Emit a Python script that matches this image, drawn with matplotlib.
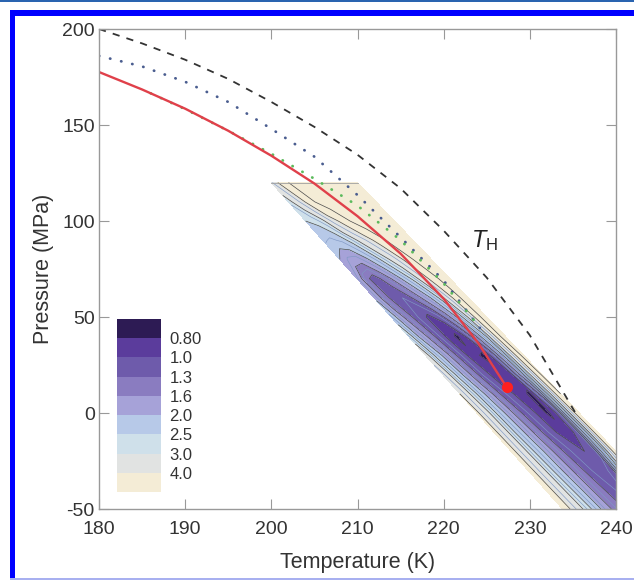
import numpy as np
import matplotlib
matplotlib.use("Agg")
import matplotlib.pyplot as plt
from matplotlib.colors import ListedColormap, BoundaryNorm
from matplotlib.patches import Rectangle

plt.rcParams['font.family'] = ['Liberation Sans', 'DejaVu Sans']
plt.rcParams['mathtext.fontset'] = 'custom'
plt.rcParams['mathtext.rm'] = 'Liberation Sans'
plt.rcParams['mathtext.it'] = 'Liberation Sans:italic'
plt.rcParams['axes.unicode_minus'] = False

# --- lines ---
th_T = [180, 185, 190, 195, 200, 205, 210, 215, 220, 225, 230, 235.3]
th_P = [200, 192.5, 184, 174, 162, 149, 134.5, 117, 95, 70.5, 40.5, 0]

blue_T = [180, 185, 190, 195, 200, 205, 210, 215, 220, 224.2]
blue_P = [186, 180.5, 172.5, 162, 148, 133.5, 113.5, 91.5, 69, 44.3]

green_T = [186, 190, 195, 200, 205, 210, 215, 220, 224.2]
green_P = [166.5, 158.2, 147, 135, 122, 108, 90, 67.5, 44.5]

red_T = [180, 185, 190, 195, 200, 205, 210, 215, 220, 224, 227.3]
red_P = [177.6, 168.5, 158.5, 147, 134, 119.5, 102.5, 83, 59.5, 36.5, 13.5]

cp_T, cp_P = 227.3, 13.5

# --- contour data: rows are pressures, columns run across the sampled band ---
band_P = [120, 110, 100, 90, 80, 70, 60, 50, 40, 30, 20, 10, 0, -10, -20, -30, -40, -50]
band_u = [0, .1, .2, .3, .4, .5, .6, .7, .8, .9, 1.0]
band_vals = [
    [3.4, 4.2, 5.0, 5.5, 6.0, 6.0, 6.0, 6.0, 6.0, 6.0, 6.0],
    [2.8, 3.3, 4.1, 5.0, 5.5, 6.0, 6.0, 6.0, 6.0, 6.0, 6.0],
    [2.5, 2.6, 2.9, 3.6, 4.2, 5.0, 5.5, 6.0, 6.0, 6.0, 6.0],
    [2.3, 2.2, 2.3, 2.6, 3.1, 3.6, 4.3, 5.0, 5.5, 6.0, 6.0],
    [2.0, 1.75, 1.7, 1.95, 2.3, 2.8, 3.3, 4.1, 5.0, 5.5, 6.0],
    [1.85, 1.35, 1.2, 1.4, 1.7, 2.1, 2.6, 3.3, 4.3, 5.2, 6.0],
    [1.95, 1.45, 1.2, 1.15, 1.3, 1.6, 2.0, 2.6, 3.6, 4.8, 6.0],
    [2.3, 1.7, 1.35, 1.1, 0.95, 1.1, 1.5, 2.1, 3.0, 4.4, 6.0],
    [2.8, 2.0, 1.55, 1.2, 0.95, 0.75, 1.05, 1.6, 2.5, 4.0, 6.0],
    [3.3, 2.4, 1.8, 1.35, 1.05, 0.85, 0.75, 1.2, 2.1, 3.6, 5.5],
    [3.7, 2.7, 2.0, 1.5, 1.15, 0.95, 0.85, 1.0, 1.8, 3.3, 5.2],
    [4.0, 3.0, 2.25, 1.7, 1.3, 1.05, 0.9, 0.75, 1.4, 3.0, 5.0],
    [4.2, 3.2, 2.4, 1.85, 1.4, 1.15, 0.95, 0.75, 1.1, 2.8, 4.8],
    [4.3, 3.3, 2.5, 1.95, 1.5, 1.2, 1.0, 0.9, 1.05, 2.6, 4.7],
    [4.4, 3.4, 2.6, 2.05, 1.6, 1.3, 1.1, 1.0, 1.1, 2.6, 4.6],
    [4.5, 3.5, 2.7, 2.1, 1.65, 1.35, 1.15, 1.05, 1.25, 3.0, 4.6],
    [4.6, 3.6, 2.8, 2.2, 1.7, 1.4, 1.2, 1.1, 1.35, 3.2, 4.6],
    [4.7, 3.7, 2.9, 2.3, 1.75, 1.45, 1.25, 1.15, 1.45, 3.4, 4.6],
]
# band edges: lower-left edge (200 K,120 MPa)->(233.8 K,-50 MPa), upper-right edge (210 K,120 MPa)->(240 K,-20 MPa)
edge_lo = (200.0, 33.8 / 170)
edge_hi = (210.0, 30.0 / 140)

levels = [0.0, 0.80, 1.0, 1.3, 1.6, 2.0, 2.5, 3.0, 4.0, 10.0]
level_labels = ['0.80', '1.0', '1.3', '1.6', '2.0', '2.5', '3.0', '4.0']
colors = ['#2d1b54', '#5b3c9c', '#6e5bab', '#8a7cc0', '#a6a2d8',
          '#b7c9e8', '#cfe0ea', '#e1e3e2', '#f4ecd6']
minor_levels = [1.15, 1.45, 1.8, 2.25, 2.75, 3.5]

P = np.array(band_P, dtype=float)
u = np.array(band_u)
t_lo = edge_lo[0] + (120 - P) * edge_lo[1]
t_hi = edge_hi[0] + (120 - P) * edge_hi[1]
TT = t_lo[:, None] + u[None, :] * (t_hi - t_lo)[:, None]
PP = np.repeat(P[:, None], len(u), axis=1)
ZZ = np.array(band_vals)

cmap = ListedColormap(colors)
norm = BoundaryNorm(levels, cmap.N)

fig = plt.figure(figsize=(6.34, 5.82), dpi=100)
ax = fig.add_axes([99 / 634, 1 - 509 / 582, 517 / 634, 480 / 582])

cf = ax.contourf(TT, PP, ZZ, levels=levels, cmap=cmap, norm=norm)
ax.contour(TT, PP, ZZ, levels=minor_levels, colors='#8098c4', linewidths=0.45)
ax.contour(TT, PP, ZZ, levels=levels[1:-1] + [5.0], colors='#4a4a4a', linewidths=0.5)
ax.plot([t_lo[0], t_hi[0]], [120, 120], color='#a0a0a0', lw=0.6)

ax.plot(th_T, th_P, color='#333333', lw=1.3, ls=(0, (4, 4)))
ax.plot(blue_T, blue_P, color='#4a5d8f', lw=2.0, ls=(0, (0.1, 4)), dash_capstyle='round')
ax.plot(green_T, green_P, color='#5cba5c', lw=2.0, ls=(0, (0.1, 4)), dash_capstyle='round')
ax.plot(red_T, red_P, color='#e0404a', lw=1.7)
ax.plot(cp_T, cp_P, 'o', color='#ff2020', ms=8, mec='none')

ax.text(223.2, 90, r'$T_{\rm H}$', fontsize=17, color='#222222', ha='left', va='center')

ax.set_xlim(180, 240)
ax.set_ylim(-50, 200)
ax.set_xticks([180, 190, 200, 210, 220, 230, 240])
ax.set_yticks([-50, 0, 50, 100, 150, 200])
ax.tick_params(direction='in', length=7, width=0.8, color='#999999', labelsize=14,
               labelcolor='#333333', top=True, right=True)
ax.tick_params(axis='x', pad=9)
ax.tick_params(axis='y', pad=3)
for s in ax.spines.values():
    s.set_color('#999999')
    s.set_linewidth(1.0)
ax.set_xlabel('Temperature (K)', fontsize=15.5, color='#333333', labelpad=10)
ax.set_ylabel('Pressure (MPa)', fontsize=15.5, color='#333333', labelpad=6)

# colour key
cax = fig.add_axes([117 / 634, 1 - 492 / 582, 44 / 634, 173 / 582])
cb = fig.colorbar(cf, cax=cax, ticks=levels[1:-1], spacing='uniform')
cb.outline.set_visible(False)
cax.invert_yaxis()
cax.minorticks_off()
cax.set_yticklabels(level_labels)
cax.tick_params(which='both', length=0, labelsize=12, labelcolor='#333333', pad=6)

# page frame
fig.add_artist(Rectangle((0, 1 - 2 / 582), 1, 2 / 582, transform=fig.transFigure, color='#2a64b0', lw=0))
fig.add_artist(Rectangle((10 / 634, 1 - 16 / 582), 1, 6 / 582, transform=fig.transFigure, color='#0000ff', lw=0))
fig.add_artist(Rectangle((10 / 634, 4 / 582), 5 / 634, 1 - 20 / 582, transform=fig.transFigure, color='#0000ff', lw=0))
fig.add_artist(Rectangle((10 / 634, 2 / 582), 1, 2 / 582, transform=fig.transFigure, color='#a8b0f0', lw=0))

fig.savefig('out.png', dpi=100)
